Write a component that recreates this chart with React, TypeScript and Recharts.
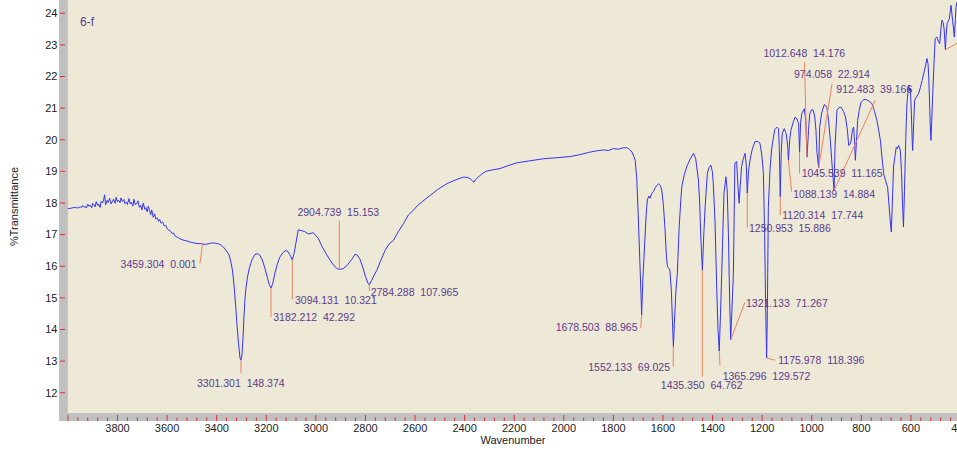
import { LineChart, Line, XAxis, YAxis, ReferenceArea, ReferenceLine, ReferenceDot } from 'recharts'

// [wavenumber, %T], left to right
const spectrum: [number, number][] = [
  [4000, 17.82], [3990, 17.83], [3980, 17.85], [3970, 17.86], [3960, 17.84], [3950, 17.88], [3944, 17.86], [3940, 17.92],
  [3934, 17.87], [3930, 17.89], [3926, 17.84], [3920, 17.96], [3916, 17.9], [3910, 17.93], [3904, 17.85], [3900, 17.99],
  [3896, 17.95], [3890, 17.88], [3886, 18.04], [3880, 17.92], [3876, 17.97], [3870, 17.86], [3866, 18.05], [3860, 18.0],
  [3856, 18.1], [3852, 18.26], [3848, 17.94], [3842, 18.08], [3838, 18.02], [3832, 18.15], [3826, 17.97], [3820, 18.06],
  [3816, 18.12], [3810, 17.99], [3806, 18.18], [3800, 18.04], [3796, 18.09], [3790, 18.01], [3786, 18.16], [3780, 18.05],
  [3774, 18.11], [3770, 17.98], [3764, 18.03], [3760, 17.95], [3754, 18.14], [3748, 17.97], [3744, 18.02], [3738, 17.9],
  [3734, 18.12], [3728, 17.94], [3722, 17.99], [3718, 18.07], [3712, 17.86], [3706, 17.93], [3702, 17.78], [3696, 18.0],
  [3690, 17.8], [3686, 17.85], [3680, 17.72], [3676, 17.9], [3670, 17.75], [3666, 17.63], [3662, 17.78], [3656, 17.55],
  [3650, 17.66], [3646, 17.5], [3640, 17.53], [3634, 17.42], [3630, 17.48], [3624, 17.36], [3618, 17.4], [3612, 17.28],
  [3606, 17.3], [3600, 17.2], [3594, 17.14], [3588, 17.13], [3580, 17.04], [3574, 17.05], [3568, 16.96], [3555, 16.9],
  [3540, 16.84], [3521, 16.8], [3500, 16.75], [3480, 16.72], [3460, 16.71], [3445, 16.69], [3430, 16.72], [3414, 16.74],
  [3400, 16.72], [3390, 16.7], [3380, 16.66], [3370, 16.58], [3360, 16.48], [3350, 16.36], [3343, 16.15], [3336, 15.85],
  [3330, 15.4], [3324, 14.8], [3318, 14.15], [3312, 13.55], [3306, 13.1], [3302, 13.03], [3298, 13.2], [3294, 13.7],
  [3290, 14.4], [3286, 14.95], [3282, 15.3], [3276, 15.65], [3268, 15.95], [3258, 16.2], [3246, 16.37], [3236, 16.4],
  [3226, 16.35], [3216, 16.2], [3206, 15.95], [3196, 15.65], [3188, 15.42], [3181, 15.31], [3174, 15.45], [3166, 15.75],
  [3156, 16.05], [3146, 16.28], [3134, 16.42], [3122, 16.5], [3112, 16.46], [3102, 16.32], [3095, 16.2], [3088, 16.4],
  [3080, 16.75], [3071, 17.15], [3055, 17.12], [3044, 17.09], [3030, 17.02], [3010, 17.06], [2990, 16.88], [2975, 16.62],
  [2956, 16.36], [2935, 16.1], [2916, 15.93], [2905, 15.9], [2890, 15.92], [2875, 16.02], [2855, 16.22], [2842, 16.38],
  [2832, 16.34], [2822, 16.22], [2810, 15.95], [2800, 15.68], [2790, 15.47], [2784, 15.41], [2775, 15.55], [2765, 15.72],
  [2754, 15.87], [2740, 16.15], [2721, 16.5], [2705, 16.7], [2687, 16.82], [2667, 17.1], [2647, 17.34], [2627, 17.62],
  [2607, 17.77], [2590, 17.92], [2570, 18.05], [2539, 18.24], [2510, 18.42], [2472, 18.61], [2440, 18.72], [2405, 18.82],
  [2390, 18.81], [2378, 18.77], [2368, 18.7], [2362, 18.66], [2356, 18.74], [2351, 18.77], [2340, 18.86], [2325, 18.95],
  [2311, 19.01], [2285, 19.05], [2257, 19.09], [2225, 19.18], [2190, 19.27], [2140, 19.33], [2082, 19.4], [2030, 19.43],
  [1974, 19.47], [1940, 19.52], [1900, 19.6], [1867, 19.65], [1840, 19.68], [1820, 19.66], [1800, 19.72], [1780, 19.7],
  [1765, 19.74], [1746, 19.75], [1735, 19.7], [1725, 19.61], [1718, 19.48], [1712, 19.35], [1706, 18.8], [1700, 17.67],
  [1694, 16.3], [1689, 15.2], [1686, 14.46], [1681, 15.6], [1673, 16.83], [1668, 17.6], [1663, 18.1], [1657, 18.22],
  [1652, 18.15], [1646, 18.3], [1639, 18.36], [1630, 18.5], [1618, 18.61], [1610, 18.55], [1605, 18.41], [1598, 17.9],
  [1592, 17.2], [1586, 16.3], [1582, 15.99], [1578, 15.95], [1572, 15.88], [1566, 15.2], [1562, 14.3], [1558, 13.46],
  [1554, 14.2], [1548, 15.2], [1542, 15.78], [1535, 17.2], [1528, 18.1], [1524, 18.52], [1514, 18.9], [1504, 19.15],
  [1490, 19.4], [1477, 19.57], [1468, 19.4], [1457, 18.73], [1452, 18.0], [1447, 16.83], [1441, 15.88], [1436, 16.9],
  [1430, 17.88], [1421, 18.94], [1414, 19.12], [1407, 19.2], [1401, 19.0], [1397, 18.62], [1390, 17.4], [1383, 15.25],
  [1378, 14.0], [1373, 13.32], [1368, 14.5], [1363, 15.78], [1358, 17.2], [1354, 18.31], [1346, 18.83], [1341, 18.41],
  [1336, 17.0], [1331, 14.9], [1327, 13.67], [1322, 14.6], [1316, 15.78], [1313, 17.5], [1310, 19.26], [1303, 19.31],
  [1298, 18.6], [1293, 17.99], [1288, 18.6], [1283, 19.15], [1276, 19.4], [1269, 19.57], [1264, 19.2], [1260, 18.31],
  [1255, 19.0], [1249, 19.36], [1240, 19.7], [1229, 19.94], [1218, 19.95], [1209, 19.89], [1201, 19.5], [1195, 18.94],
  [1190, 17.0], [1186, 14.8], [1182, 13.1], [1179, 14.6], [1177, 16.2], [1175, 17.88], [1168, 19.1], [1162, 19.68],
  [1155, 20.05], [1149, 20.32], [1140, 20.4], [1134, 20.35], [1131, 19.8], [1127, 18.2], [1123, 19.6], [1119, 20.19],
  [1111, 20.35], [1103, 20.19], [1097, 19.8], [1094, 19.36], [1089, 20.0], [1084, 20.3], [1075, 20.55], [1067, 20.72],
  [1060, 20.66], [1053, 20.51], [1049, 19.61], [1045, 20.55], [1040, 20.83], [1030, 20.98], [1024, 20.6], [1019, 19.45],
  [1013, 20.3], [1008, 20.83], [1000, 20.95], [995, 20.95], [988, 20.75], [983, 20.3], [979, 19.6], [972, 19.11],
  [968, 20.4], [960, 20.85], [949, 21.12], [939, 21.03], [932, 20.6], [925, 19.98], [918, 19.2], [910, 18.4],
  [906, 19.8], [898, 20.93], [890, 21.02], [882, 21.03], [872, 20.9], [864, 20.72], [856, 20.3], [851, 19.82],
  [846, 19.85], [842, 19.93], [836, 20.3], [831, 20.4], [827, 19.9], [824, 19.35], [820, 19.9], [815, 20.61],
  [808, 20.95], [801, 21.19], [790, 21.27], [780, 21.27], [768, 21.22], [757, 21.14], [747, 20.9], [737, 20.61],
  [730, 20.3], [723, 19.98], [716, 19.4], [710, 18.93], [702, 18.7], [694, 18.5], [688, 17.9], [683, 17.4],
  [679, 17.08], [675, 18.0], [670, 19.14], [664, 19.5], [659, 19.77], [654, 19.72], [650, 19.82], [646, 19.75],
  [643, 19.66], [638, 19.0], [634, 18.0], [630, 17.24], [626, 18.4], [622, 19.66], [619, 20.5], [616, 21.14],
  [612, 21.5], [609, 21.72], [605, 21.55], [602, 21.62], [598, 20.8], [595, 20.0], [593, 19.66], [589, 20.5],
  [585, 21.25], [578, 21.35], [569, 21.46], [562, 21.65], [555, 21.88], [545, 22.2], [535, 22.57], [531, 22.4],
  [528, 21.98], [524, 21.0], [521, 20.2], [519, 19.98], [516, 20.6], [512, 21.46], [507, 22.4], [502, 23.2],
  [495, 23.25], [489, 23.1], [484, 23.04], [479, 23.5], [475, 23.78], [470, 23.7], [466, 23.5], [463, 23.1],
  [461, 22.84], [458, 23.3], [454, 23.67], [449, 23.75], [445, 23.83], [441, 24.1], [438, 24.25], [435, 24.0],
  [432, 23.78], [428, 23.5], [425, 23.25], [421, 23.8], [418, 24.2], [414, 24.35], [410, 24.3], [400, 24.2],
]

// peak picks: position and the second number printed by the software
const peakWavenumbers = [3459.304, 3301.301, 3182.212, 3094.131, 2904.739, 2784.288, 1678.503, 1552.133, 1435.35,
  1365.296, 1321.133, 1250.953, 1175.978, 1120.314, 1088.139, 1045.539, 1012.648, 974.058, 912.483]
const peakValues = [0.001, 148.374, 42.292, 10.321, 15.153, 107.965, 88.965, 69.025, 64.762,
  129.572, 71.267, 15.886, 118.396, 17.744, 14.884, 11.165, 14.176, 22.914, 39.166]

const yTicks = [12, 13, 14, 15, 16, 17, 18, 19, 20, 21, 22, 23, 24]
const xLabelStep = 200
const xTicks = Array.from({ length: 91 }, (_, i) => 4000 - i * 40)

// leader line (curve point -> end) and label anchor, in data units
type Anchor = 'start' | 'middle' | 'end'
const leaders: [number, number, number, number, number, number, Anchor][] = [
  [3456.4, 16.73, 3467.3, 16.09, 3481.4, 16.06, 'end'],
  [3302, 13.03, 3302, 12.61, 3479.4, 12.3, 'start'],
  [3181, 15.31, 3181, 14.4, 3171.7, 14.4, 'start'],
  [3095.1, 16.2, 3095.1, 14.96, 3084.2, 14.93, 'start'],
  [2905.5, 15.9, 2905.5, 17.44, 2909.5, 17.72, 'middle'],
  [2784.5, 15.41, 2784.5, 15.22, 2778.9, 15.19, 'start'],
  [1685.9, 14.46, 1689.9, 14.05, 1702.8, 14.08, 'end'],
  [1558.4, 13.46, 1558.4, 12.82, 1571.7, 12.8, 'end'],
  [1441.4, 15.88, 1441.4, 12.51, 1443.9, 12.24, 'middle'],
  [1372.9, 13.32, 1370.1, 12.85, 1359.2, 12.51, 'start'],
  [1326.9, 13.67, 1269.2, 14.86, 1265.2, 14.83, 'start'],
  [1259.9, 18.31, 1259.9, 17.23, 1253.1, 17.2, 'start'],
  [1181.7, 13.1, 1148.2, 13.03, 1134.9, 13.03, 'start'],
  [1126.9, 18.2, 1126.9, 17.62, 1118.8, 17.6, 'start'],
  [1094.6, 19.36, 1080.9, 18.36, 1074.4, 18.28, 'start'],
  [1049.4, 19.61, 1049.4, 18.94, 1040.5, 18.94, 'start'],
  [1019.2, 19.45, 1029.2, 22.45, 1030, 22.74, 'middle'],
  [972.4, 19.11, 918.3, 21.76, 918.3, 22.08, 'middle'],
  [909.9, 18.4, 744.1, 21.25, 747.7, 21.6, 'middle'],
]
// a pick whose label is cut off at the right edge
const cutLeader = [462.6, 22.84, 400, 23.11]

const X_DOMAIN: [number, number] = [398, 4036]
const Y_DOMAIN: [number, number] = [11.106, 24.42]
const PLOT_X0 = 4000
const PLOT_Y0 = 11.37

const FONT = '"Liberation Sans", Arial, sans-serif'
const PURPLE = '#5b3b8f'
const ORANGE = '#f08060'
const RED = '#e82a2a'

const data = spectrum.map(([w, t]) => ({ w, t }))

const XTick = ({ x, y, payload }: any) => {
  const v = payload.value
  const major = v % xLabelStep === 0
  return (
    <g>
      <line x1={x} x2={x} y1={y - (major ? 6 : 3.5)} y2={y} stroke={RED} />
      {major && v !== 4000 && (
        <text x={x} y={y + 11} textAnchor="middle" fontSize={11} fontFamily={FONT} fill="#222">{v}</text>
      )}
    </g>
  )
}

const YTick = ({ x, y, payload }: any) => (
  <g>
    <line x1={x + 1} x2={x + 6} y1={y} y2={y} stroke={RED} />
    <text x={x - 1.5} y={y} dy="0.35em" textAnchor="end" fontSize={11} fontFamily={FONT} fill="#222">{payload.value}</text>
  </g>
)

const annLabel = (text: string, anchor: Anchor, size = 10.5) => (props: any) => {
  const vb = props.viewBox
  return (
    <text x={vb.x + vb.width / 2} y={vb.y + vb.height / 2} dy="0.35em" textAnchor={anchor} fontSize={size}
      fontFamily={FONT} fill={PURPLE} xmlSpace="preserve" style={{ whiteSpace: 'pre' }}>
      {text}
    </text>
  )
}

export default function App() {
  return (
    <div style={{ position: 'absolute', left: 0, top: 0, width: 957, height: 453, overflow: 'hidden', background: '#fff' }}>
      <LineChart width={961} height={453} data={data} margin={{ top: 0, right: 0, bottom: 0, left: 0 }}>
        <ReferenceArea x1={PLOT_X0} x2={X_DOMAIN[1]} y1={Y_DOMAIN[0]} y2={Y_DOMAIN[1]} fill="#c0c0c0" fillOpacity={1} stroke="none" ifOverflow="visible" />
        <ReferenceArea x1={X_DOMAIN[0]} x2={PLOT_X0} y1={Y_DOMAIN[0]} y2={PLOT_Y0} fill="#c0c0c0" fillOpacity={1} stroke="none" ifOverflow="visible" />
        <ReferenceArea x1={X_DOMAIN[0]} x2={PLOT_X0} y1={PLOT_Y0} y2={Y_DOMAIN[1]} fill="#eee9d6" fillOpacity={1} stroke="none" ifOverflow="visible" />
        <XAxis
          dataKey="w"
          type="number"
          domain={X_DOMAIN}
          reversed
          allowDataOverflow
          ticks={xTicks}
          interval={0}
          height={32}
          axisLine={false}
          tickLine={false}
          tickSize={0}
          tickMargin={0}
          tick={<XTick />}
          label={{
            content: (p: any) => (
              <text x={p.viewBox.x + p.viewBox.width / 2 + 3} y={p.viewBox.y + 23} textAnchor="middle" fontSize={11} fontFamily={FONT} fill="#222">
                Wavenumber
              </text>
            ),
          }}
        />
        <YAxis
          type="number"
          domain={Y_DOMAIN}
          allowDataOverflow
          ticks={yTicks}
          interval={0}
          width={59}
          axisLine={false}
          tickLine={false}
          tickSize={0}
          tickMargin={0}
          tick={<YTick />}
          label={{
            content: (p: any) => {
              const cx = p.viewBox.x + 14
              const cy = p.viewBox.y + p.viewBox.height / 2 - 4
              return (
                <text x={cx} y={cy} transform={`rotate(-90 ${cx} ${cy})`} dy="0.35em" textAnchor="middle" fontSize={11} fontFamily={FONT} fill="#222">
                  %Transmittance
                </text>
              )
            },
          }}
        />
        <Line type="linear" dataKey="t" stroke="#3333f0" strokeWidth={1} dot={false} activeDot={false} isAnimationActive={false} />
        {leaders.map(([x1, y1, x2, y2], i) => (
          <ReferenceLine key={`l${i}`} segment={[{ x: x1, y: y1 }, { x: x2, y: y2 }]} stroke={ORANGE} strokeWidth={1} ifOverflow="visible" />
        ))}
        <ReferenceLine segment={[{ x: cutLeader[0], y: cutLeader[1] }, { x: cutLeader[2], y: cutLeader[3] }]} stroke={ORANGE} strokeWidth={1} ifOverflow="visible" />
        {leaders.map(([, , , , lx, ly, anchor], i) => (
          <ReferenceDot
            key={`d${i}`}
            x={lx}
            y={ly}
            r={1}
            fill="none"
            stroke="none"
            ifOverflow="visible"
            label={annLabel(`${peakWavenumbers[i].toFixed(3)}  ${peakValues[i].toFixed(3)}`, anchor)}
          />
        ))}
        <ReferenceDot x={3951} y={23.73} r={1} fill="none" stroke="none" ifOverflow="visible" label={annLabel('6-f', 'start', 12)} />
      </LineChart>
    </div>
  )
}
